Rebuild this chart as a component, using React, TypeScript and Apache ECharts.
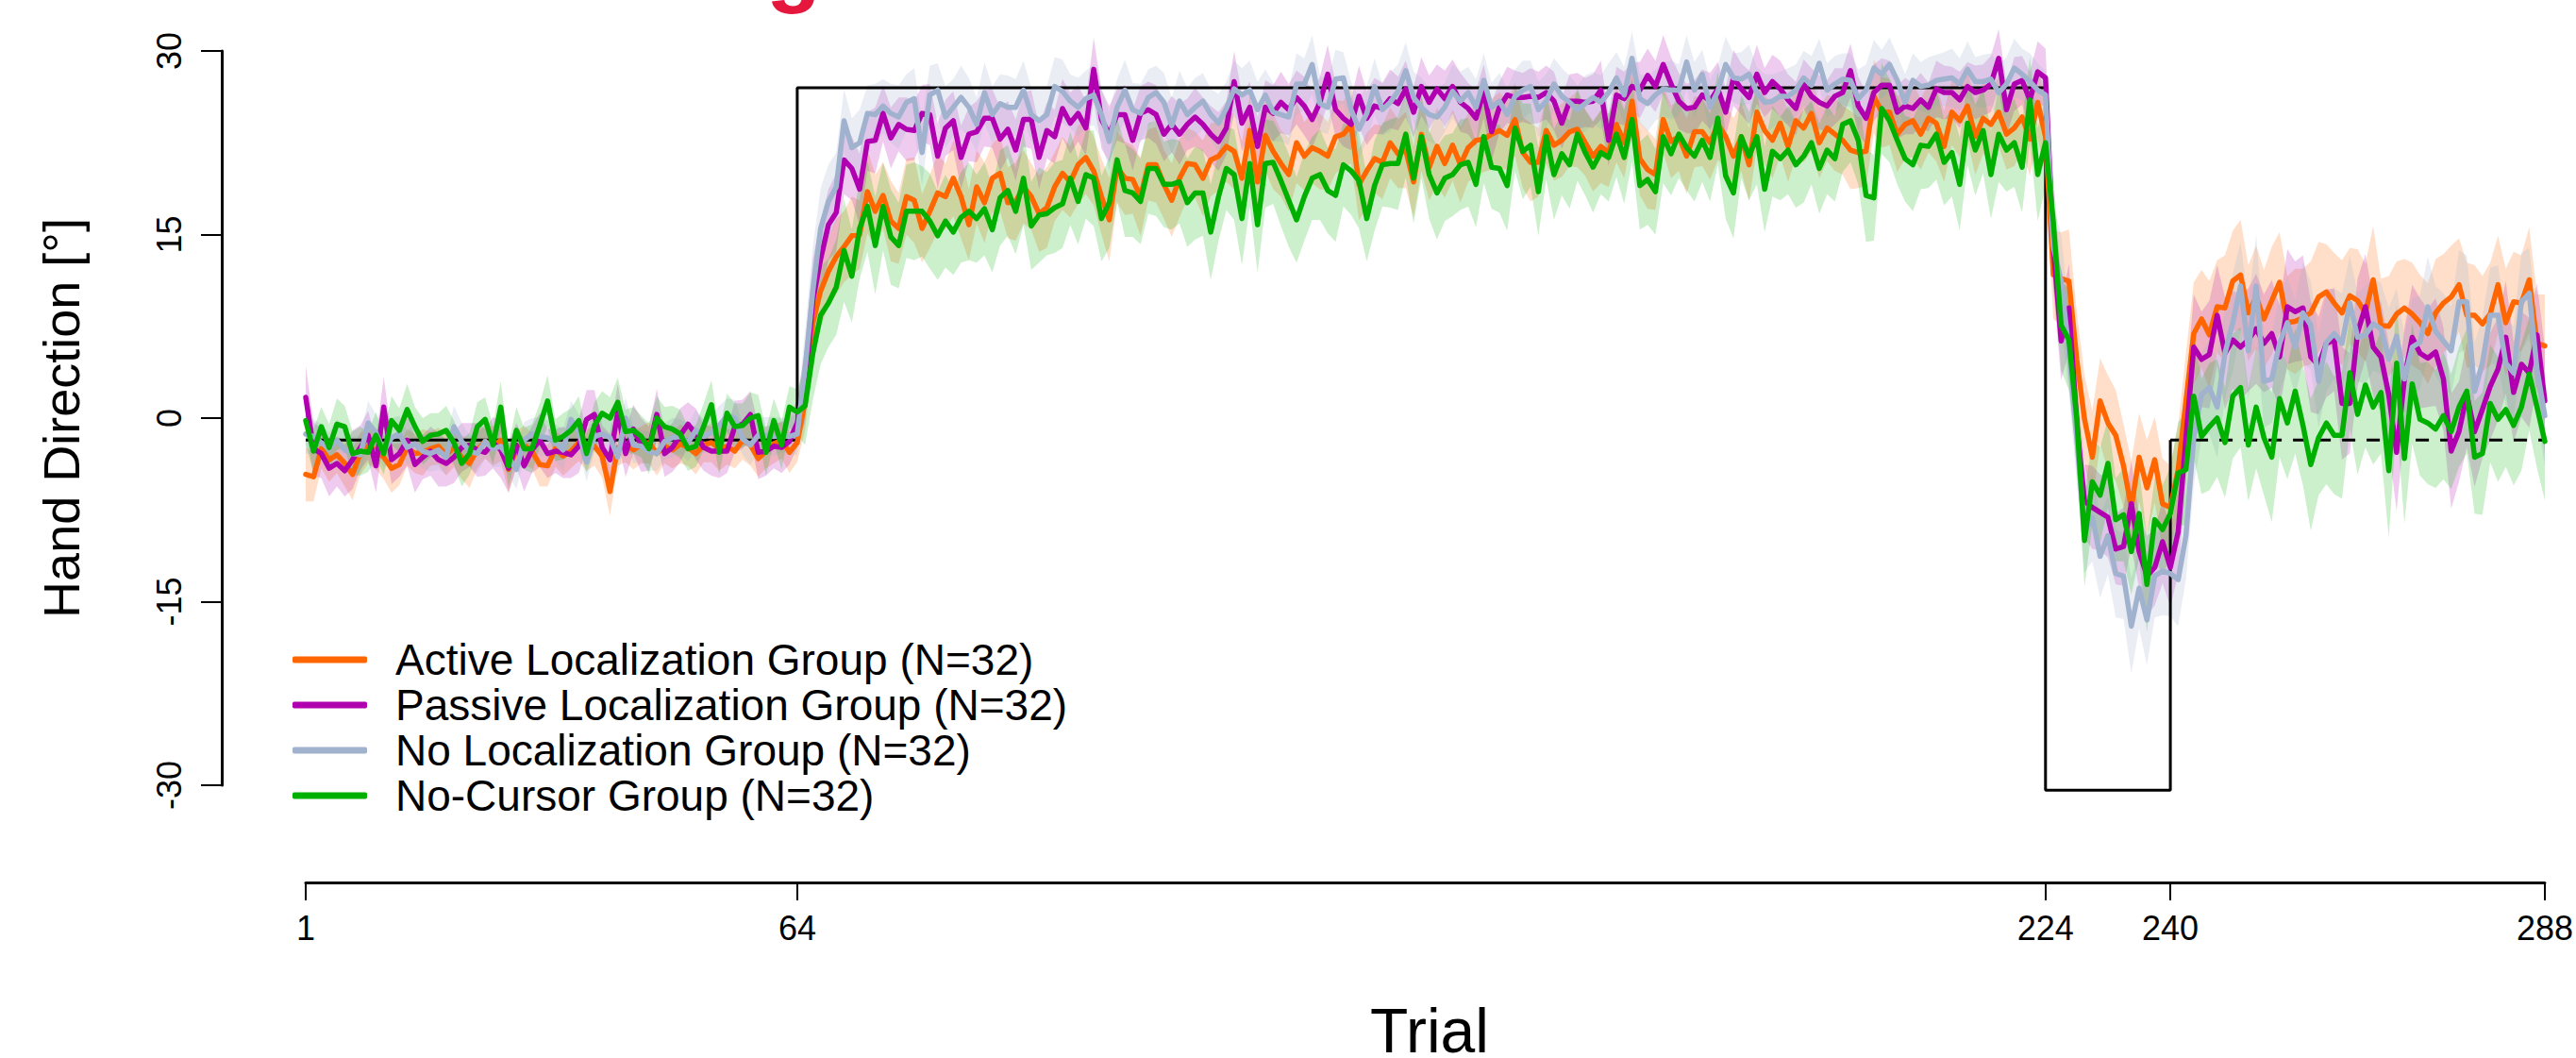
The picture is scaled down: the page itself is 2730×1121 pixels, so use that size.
import React, { useEffect, useRef } from "react";
import * as echarts from "echarts";

const FONT = "'Liberation Sans', Arial, Helvetica, sans-serif";

const TRIALS: number[] = Array.from({ length: 288 }, (_, i) => i + 1);
const X_TICKS = [1, 64, 224, 240, 288];

const GROUP_NAMES = [
  "Active Localization Group (N=32)",
  "Passive Localization Group (N=32)",
  "No Localization Group (N=32)",
  "No-Cursor Group (N=32)",
];
const LINE_COLORS = ["#FF6600", "#B000B0", "#A0B2CE", "#00B000"];
const BAND_COLORS = [
  "rgba(255,102,0,0.21)",
  "rgba(176,0,176,0.2)",
  "rgba(160,178,206,0.22)",
  "rgba(0,176,0,0.2)",
];

// perturbation schedule (trial, degrees)
const SCHEDULE_SOLID = [[1, -1.8], [64, -1.8], [64, 27], [224, 27], [224, -30.4], [240, -30.4], [240, -1.8]];
const SCHEDULE_DASHED = [[240, -1.8], [288, -1.8]];

const ACTIVE_MEAN = [
  -4.6,-4.8,-2.5,-3.4,-3.0,-3.7,-4.6,-2.9,-2.3,-2.6,
  -3.2,-4.1,-3.8,-2.4,-2.9,-2.8,-2.5,-2.3,-3.0,-2.4,
  -3.2,-3.7,-2.6,-1.9,-2.3,-1.8,-4.2,-2.6,-2.2,-2.7,
  -3.8,-3.9,-2.5,-3.1,-2.7,-2.0,-2.6,-2.3,-3.1,-6.0,
  -2.4,-2.2,-2.6,-2.2,-2.0,-2.9,-2.3,-2.6,-2.1,-2.4,
  -2.9,-2.2,-2.0,-2.5,-2.3,-2.7,-1.8,-2.2,-3.3,-2.7,
  -2.1,-1.8,-2.8,-2.0,1.4,7.8,10.4,12.0,13.2,14.0,
  14.9,15.0,18.5,16.9,18.2,16.1,15.5,18.1,17.8,15.5,
  16.9,18.4,18.1,19.6,18.1,15.8,18.9,17.6,19.6,20.0,
  17.6,17.7,18.9,18.1,16.7,17.2,18.9,20.0,19.3,20.7,
  21.3,20.2,18.1,16.2,20.5,19.6,19.5,18.1,20.7,20.7,
  19.1,17.8,19.6,20.8,20.7,19.6,21.1,21.4,22.2,21.8,
  19.6,23.5,19.3,23.1,21.8,20.8,19.9,22.5,21.4,22.1,
  21.8,21.4,23.0,23.2,24.0,19.1,20.2,21.2,20.9,22.5,
  21.6,21.9,19.3,23.2,20.5,22.2,20.8,22.3,20.7,22.1,
  22.7,22.8,23.2,23.5,23.1,24.4,21.7,20.9,20.9,23.5,
  22.3,22.7,23.4,23.6,22.5,21.4,22.2,21.7,24.0,22.5,
  25.9,21.2,20.3,19.9,24.4,22.6,23.0,21.4,23.4,23.4,
  22.5,24.0,23.0,21.4,23.0,20.7,25.0,23.5,22.7,24.1,
  22.2,24.3,23.7,24.9,22.5,23.7,23.2,22.7,21.9,21.7,
  21.8,26.3,25.0,25.0,23.2,24.0,24.3,23.2,24.5,24.1,
  22.2,25.0,24.3,25.5,23.0,24.5,24.0,25.0,23.2,23.7,
  24.6,22.8,25.8,23.0,11.7,11.4,11.2,4.8,-0.1,-3.2,
  1.4,-0.4,-1.4,-3.9,-7.3,-3.2,-5.7,-3.4,-7.0,-7.3,
  -4.2,1.4,6.9,8.1,6.8,9.1,9.0,11.2,11.7,8.6,
  9.9,8.1,9.6,11.1,7.8,7.9,8.2,8.6,9.9,10.3,
  9.4,8.6,10.0,9.6,8.6,11.3,7.6,7.5,8.5,9.0,
  8.5,7.8,6.9,8.6,9.4,9.9,10.9,8.4,8.4,7.7,
  8.5,10.9,7.8,9.5,9.4,11.3,6.1,5.9,
];

const PASSIVE_MEAN = [
  1.7,-2.5,-2.9,-4.1,-3.7,-4.3,-3.4,-2.4,-1.4,-3.9,
  0.9,-3.4,-2.9,-1.8,-3.8,-3.2,-2.7,-3.4,-3.7,-3.2,
  -2.4,-2.2,-2.6,-2.8,-2.0,-2.6,-4.1,-2.2,-3.9,-2.6,
  -1.8,-2.9,-2.7,-2.8,-3.0,-2.3,-0.1,0.3,-2.4,-3.4,
  0.5,-2.9,-0.9,-2.2,-2.5,0.3,-2.9,-2.4,-1.4,-0.5,
  -1.3,-2.4,-2.7,-2.7,-2.7,-0.7,-0.5,0.3,-2.8,-2.7,
  -2.3,-2.4,-1.9,-0.4,2.7,9.6,13.0,15.8,16.8,21.1,
  20.4,18.7,22.6,22.7,24.9,22.9,24.0,23.6,23.5,24.9,
  24.8,21.4,23.7,24.3,21.3,23.2,23.4,24.5,24.5,22.8,
  23.6,21.9,24.4,24.4,21.3,23.5,23.0,25.3,24.1,24.9,
  23.7,28.5,24.4,23.2,24.8,24.8,22.7,24.9,25.2,24.8,
  23.2,24.0,23.2,24.0,24.6,24.0,23.2,22.6,23.7,27.5,
  24.1,25.4,22.2,25.4,24.9,25.8,25.2,26.2,25.5,24.4,
  25.8,28.1,25.2,24.5,24.0,26.3,24.5,25.5,25.3,26.1,
  25.7,26.9,25.0,27.1,25.8,26.9,26.1,27.1,25.8,25.3,
  24.5,26.7,23.4,25.4,26.4,26.2,26.2,26.3,26.2,26.6,
  25.9,24.1,25.9,25.9,25.8,25.9,26.8,22.7,26.4,26.1,
  27.1,26.8,28.0,27.1,28.9,27.3,25.9,25.3,25.4,26.4,
  25.9,26.9,25.0,27.8,26.9,26.2,28.1,26.6,27.5,26.9,
  26.0,25.3,27.3,26.3,25.8,25.5,26.3,26.6,28.4,25.5,
  24.5,26.6,27.2,27.2,25.0,25.5,25.3,26.0,25.4,26.9,
  26.6,26.6,26.0,27.1,26.6,26.8,27.3,29.4,25.2,27.3,
  27.6,26.0,28.3,27.8,14.0,6.3,9.0,-0.4,-6.8,-7.3,
  -7.7,-8.1,-10.7,-10.5,-7.0,-10.9,-12.9,-12.2,-10.1,-12.2,
  -9.3,-1.6,5.8,4.8,5.2,8.4,5.3,6.4,5.8,6.4,
  7.3,6.1,6.9,5.0,9.1,8.7,9.0,5.0,4.3,6.1,
  6.4,1.2,1.2,7.0,9.1,5.8,5.0,1.9,-2.8,3.2,
  6.6,5.3,4.9,5.4,3.2,-2.7,-1.1,1.9,-1.1,0.7,
  2.6,4.0,6.6,2.1,4.4,3.7,6.8,1.4,
];

const NOLOC_MEAN = [
  -1.3,-1.5,-2.0,-2.5,-1.8,-2.6,-2.9,-3.0,-0.4,-1.2,
  -2.7,-1.6,-1.3,-2.4,-2.1,-2.7,-2.9,-2.6,-3.2,-0.7,
  -1.9,-2.7,-2.9,-1.9,-2.5,-2.3,-3.2,-4.2,-1.8,-1.3,
  -1.5,-1.6,-2.0,-2.6,-0.1,-1.1,-3.6,-1.5,-1.3,-1.6,
  -3.2,0.0,-2.2,-2.3,-2.7,-2.9,-1.9,-1.6,-1.5,-2.0,
  -1.0,-1.5,-1.2,-0.6,0.2,0.0,-1.7,-2.2,-1.4,-1.4,
  -1.5,-1.4,-1.5,-1.3,4.0,10.4,15.5,17.7,18.9,24.3,
  22.1,22.5,24.9,24.8,25.5,24.9,24.6,25.8,26.1,21.7,
  26.4,26.8,24.6,25.4,26.2,25.4,24.0,26.6,24.8,25.7,
  25.4,25.4,26.8,24.8,24.3,24.8,27.1,26.7,25.9,25.4,
  26.1,26.4,24.8,22.6,25.4,26.8,25.2,24.9,26.2,26.6,
  25.8,23.9,25.9,24.8,25.4,25.9,24.8,24.1,25.3,26.9,
  26.4,26.8,25.2,26.4,25.0,24.8,24.6,27.3,27.3,28.9,
  25.7,25.4,27.7,27.8,25.2,23.6,24.9,27.1,25.2,25.8,
  26.7,28.4,26.2,25.4,24.8,24.6,25.4,26.7,25.9,26.6,
  25.4,27.6,25.4,25.9,24.8,26.3,26.8,27.1,25.2,25.9,
  27.3,26.3,25.8,25.2,25.7,26.2,25.8,26.6,27.8,26.4,
  29.4,26.1,25.7,26.4,26.9,26.8,26.8,29.1,26.8,28.1,
  25.4,26.7,28.9,27.8,27.7,28.1,26.6,25.8,25.9,26.3,
  26.3,26.8,27.8,27.2,29.0,26.8,27.3,27.7,27.6,26.1,
  26.8,28.6,28.1,28.9,27.6,25.8,27.6,27.1,27.2,27.6,
  27.7,27.8,27.3,28.5,27.5,27.5,27.7,26.6,27.3,28.6,
  28.1,27.5,26.8,26.4,14.0,11.2,5.5,-1.6,-9.3,-8.1,
  -11.3,-9.6,-12.7,-12.9,-17.0,-13.9,-16.5,-12.9,-12.5,-12.7,
  -13.2,-9.6,-1.6,1.9,2.5,0.9,5.3,7.8,10.8,5.5,
  10.8,3.0,3.2,6.1,7.8,5.8,8.6,7.6,3.0,6.2,
  6.9,6.1,9.4,6.6,6.8,7.7,7.3,4.8,6.7,3.2,
  5.8,6.2,9.1,7.1,6.3,5.5,9.5,9.5,2.2,4.5,
  8.4,8.4,4.5,3.7,9.5,10.2,4.0,0.2,
];

const NOCURSOR_MEAN = [
  -0.2,-2.7,-0.7,-2.4,-0.5,-0.7,-2.9,-2.7,-2.8,-1.4,
  -2.9,-0.2,-1.0,0.7,-0.7,-1.9,-1.4,-1.3,-1.0,-2.0,
  -3.7,-2.9,-0.7,-0.1,-2.2,0.9,-3.9,-1.0,-2.5,-2.5,
  -0.6,1.4,-1.8,-1.5,-1.0,-0.2,-2.9,-0.6,0.4,0.0,
  1.3,-1.1,-1.0,-1.5,-2.5,0.0,-0.7,-0.9,-1.3,-2.5,
  -2.3,-0.7,1.1,-2.8,0.4,-0.7,-0.6,0.0,0.2,-2.8,
  -0.2,-2.2,0.9,0.5,1.0,5.3,8.4,9.4,10.7,13.7,
  11.6,15.5,17.3,14.1,17.3,14.8,14.1,16.9,16.9,16.9,
  16.1,14.9,16.1,15.2,16.4,16.9,16.3,17.1,15.4,18.0,
  18.6,16.9,19.6,15.7,16.6,16.7,17.2,17.5,19.6,17.7,
  19.9,19.6,16.3,17.6,21.1,18.6,18.4,17.7,20.4,20.4,
  19.1,19.1,19.3,17.6,18.4,18.4,15.2,18.1,20.4,19.9,
  16.3,20.8,15.8,20.8,20.9,19.4,17.8,16.2,18.1,19.6,
  19.9,18.6,18.2,20.7,20.2,19.4,16.3,19.0,20.7,20.8,
  20.8,23.2,19.6,23.0,19.9,18.4,19.6,19.9,20.7,20.9,
  19.1,23.0,20.5,20.4,19.0,23.7,21.8,22.3,18.5,23.0,
  19.9,21.6,20.7,23.2,21.7,20.5,21.7,21.3,23.2,21.3,
  24.4,19.0,19.5,18.5,23.0,21.6,23.2,22.1,21.4,22.7,
  21.3,24.5,19.8,18.4,23.0,21.4,23.0,18.7,21.8,21.2,
  21.9,20.7,21.4,22.5,20.4,21.9,21.2,24.0,24.3,22.7,
  18.2,18.0,25.3,24.3,22.7,21.2,20.7,22.3,22.2,23.2,
  20.9,21.7,19.1,24.1,21.9,23.5,19.9,23.2,21.9,22.5,
  20.5,26.0,19.9,22.5,16.0,7.6,6.4,0.0,-10.0,-5.2,
  -6.3,-3.7,-8.3,-7.9,-10.9,-7.8,-13.6,-8.3,-9.1,-7.8,
  -4.5,-4.2,1.8,-1.5,-0.7,0.0,-2.0,1.8,2.5,-2.2,
  0.9,-1.6,-3.2,1.6,-0.4,2.2,-0.6,-3.8,-1.6,-0.4,
  -1.4,-1.4,3.7,0.3,2.7,0.9,2.1,-4.3,4.5,-3.3,
  2.8,-0.1,-0.4,-0.9,0.2,-1.1,0.9,2.2,-3.2,-2.9,
  1.2,-0.1,0.7,-0.6,0.9,3.6,0.9,-1.9,
];

// half-widths of the confidence bands
const ACTIVE_CI = [
  2.2,2.0,1.6,1.8,1.5,1.9,2.1,1.7,1.4,1.6,
  1.8,2.0,1.7,1.5,1.6,1.9,1.4,1.5,1.7,1.6,
  1.8,2.0,1.5,1.4,1.6,1.7,1.9,1.5,1.6,1.4,
  1.8,1.7,1.5,1.6,1.4,1.5,1.7,1.6,1.8,2.0,
  1.5,1.4,1.6,1.5,1.7,1.8,1.4,1.5,1.6,1.5,
  1.7,1.4,1.6,1.8,1.5,1.4,1.6,1.7,1.5,1.4,
  1.6,1.5,1.7,1.6,2.4,3.2,3.0,2.8,3.1,2.9,
  3.2,2.8,3.4,3.0,2.7,3.3,2.9,3.1,3.5,2.8,
  3.0,3.2,2.7,3.1,3.4,2.9,3.0,3.3,2.8,3.1,
  2.9,3.2,3.0,2.7,3.1,3.3,2.8,3.0,2.9,3.2,
  3.0,2.8,3.1,3.4,2.9,3.0,2.8,3.2,2.9,3.1,
  2.8,3.0,3.2,2.9,2.7,3.1,3.0,2.8,2.9,3.1,
  3.0,2.8,3.2,2.9,3.1,2.7,3.0,3.3,2.8,2.9,
  3.1,2.8,3.0,2.7,3.2,2.9,3.1,2.8,3.0,2.9,
  2.8,3.1,2.9,3.0,2.7,3.2,2.8,2.9,3.1,2.8,
  3.0,2.7,2.9,3.1,2.8,3.0,2.9,3.2,2.8,2.7,
  2.9,3.0,2.8,3.1,2.7,2.9,3.0,2.8,3.1,2.9,
  2.8,3.0,3.2,2.9,2.7,3.0,2.8,3.1,2.9,2.8,
  3.0,2.9,2.7,3.1,2.8,3.0,2.9,2.8,3.1,2.7,
  2.9,3.0,2.8,3.1,2.9,2.7,3.0,2.8,3.2,2.9,
  2.8,3.0,2.9,2.7,3.1,2.8,3.0,2.9,2.8,3.1,
  2.9,2.7,3.0,2.8,3.1,2.9,3.0,2.8,2.9,3.1,
  2.8,3.0,2.9,3.1,3.6,3.8,4.2,3.9,3.6,3.8,
  3.5,3.9,3.7,3.4,3.8,3.6,3.9,3.5,3.7,3.4,
  3.6,3.9,4.2,4.0,4.4,3.8,4.3,4.1,4.5,3.9,
  4.2,4.0,4.4,4.1,3.8,4.3,4.0,4.2,4.5,3.9,
  4.1,4.3,3.9,4.2,4.0,4.4,3.8,4.1,4.3,4.0,
  4.2,3.9,4.1,4.4,4.0,4.2,3.8,4.3,4.1,3.9,
  4.2,4.0,4.4,4.1,3.9,4.3,4.0,4.2,
];

const PASSIVE_CI = [
  2.6,2.2,2.0,2.3,1.9,2.1,2.4,1.8,2.0,2.2,
  2.5,2.0,1.9,2.1,2.3,1.8,2.0,2.2,1.9,2.1,
  2.0,1.8,2.2,1.9,2.1,2.3,2.0,1.8,2.1,1.9,
  2.2,2.0,1.8,2.1,1.9,2.2,2.4,2.0,1.8,2.1,
  2.3,1.9,2.0,2.2,1.8,2.1,1.9,2.0,2.2,1.8,
  2.1,1.9,2.0,2.2,1.8,2.1,2.0,1.9,2.2,2.0,
  1.8,2.1,1.9,2.0,3.0,3.4,3.1,2.9,3.2,2.8,
  2.6,2.9,2.4,2.7,2.3,2.5,2.2,2.6,2.4,2.3,
  2.5,2.7,2.3,2.4,2.6,2.2,2.5,2.3,2.4,2.6,
  2.3,2.5,2.2,2.4,2.6,2.3,2.2,2.4,2.5,2.3,
  2.2,2.6,2.4,2.3,2.1,2.4,2.5,2.2,2.3,2.4,
  2.2,2.3,2.5,2.1,2.4,2.2,2.3,2.4,2.2,2.5,
  2.3,2.1,2.4,2.2,2.3,2.5,2.1,2.2,2.4,2.3,
  2.1,2.4,2.2,2.3,2.1,2.5,2.2,2.3,2.1,2.4,
  2.2,2.3,2.1,2.4,2.2,2.0,2.3,2.2,2.4,2.1,
  2.3,2.2,2.4,2.1,2.3,2.2,2.0,2.3,2.1,2.2,
  2.4,2.1,2.2,2.3,2.0,2.2,2.4,2.1,2.3,2.2,
  2.0,2.3,2.2,2.1,2.4,2.2,2.3,2.0,2.2,2.1,
  2.3,2.2,2.0,2.3,2.1,2.2,2.4,2.0,2.2,2.3,
  2.1,2.2,2.0,2.3,2.2,2.1,2.3,2.0,2.2,2.4,
  2.1,2.3,2.2,2.0,2.2,2.3,2.1,2.2,2.0,2.3,
  2.2,2.1,2.3,2.0,2.2,2.1,2.3,2.4,2.1,2.2,
  2.0,2.3,2.5,2.4,3.4,3.2,3.6,3.3,3.0,3.4,
  3.1,3.3,2.9,3.2,3.5,3.0,3.3,3.1,3.4,3.2,
  3.5,3.8,4.3,3.9,4.4,4.1,4.6,4.0,4.3,4.2,
  4.5,4.0,4.4,4.2,4.7,4.1,4.3,4.5,4.0,4.4,
  4.2,4.6,4.1,4.4,4.3,4.0,4.5,4.2,4.8,4.1,
  4.3,4.5,4.0,4.4,4.2,4.7,4.1,4.3,4.5,4.0,
  4.4,4.2,4.6,4.1,4.3,4.5,4.2,4.4,
];

const NOLOC_CI = [
  1.6,1.4,1.5,1.3,1.7,1.5,1.4,1.6,1.8,1.5,
  1.4,1.6,1.5,1.3,1.7,1.4,1.5,1.6,1.4,1.7,
  1.5,1.3,1.6,1.4,1.5,1.7,1.4,1.6,1.5,1.3,
  1.6,1.4,1.5,1.7,1.5,1.4,1.6,1.3,1.5,1.6,
  1.4,1.7,1.5,1.3,1.6,1.4,1.5,1.6,1.4,1.5,
  1.7,1.4,1.5,1.6,1.4,1.5,1.3,1.6,1.4,1.5,
  1.6,1.4,1.5,1.7,3.2,3.6,3.3,3.0,2.8,2.6,
  2.4,2.7,2.3,2.5,2.2,2.4,2.6,2.3,2.5,2.7,
  2.4,2.2,2.5,2.3,2.6,2.4,2.2,2.5,2.3,2.4,
  2.6,2.3,2.4,2.2,2.5,2.3,2.4,2.6,2.2,2.4,
  2.3,2.5,2.2,2.4,2.3,2.5,2.2,2.4,2.3,2.2,
  2.4,2.3,2.5,2.2,2.4,2.3,2.1,2.4,2.2,2.3,
  2.2,2.4,2.3,2.1,2.4,2.2,2.3,2.5,2.1,2.4,
  2.3,2.2,2.4,2.1,2.3,2.5,2.2,2.3,2.1,2.4,
  2.2,2.3,2.1,2.4,2.2,2.3,2.0,2.2,2.4,2.1,
  2.3,2.2,2.0,2.3,2.1,2.2,2.4,2.1,2.3,2.2,
  2.1,2.3,2.2,2.0,2.3,2.1,2.2,2.4,2.1,2.3,
  2.2,2.0,2.3,2.1,2.2,2.4,2.1,2.2,2.3,2.0,
  2.2,2.1,2.3,2.0,2.2,2.4,2.1,2.3,2.2,2.0,
  2.3,2.1,2.2,2.4,2.0,2.2,2.3,2.1,2.2,2.4,
  2.1,2.3,2.0,2.2,2.1,2.3,2.2,2.0,2.3,2.1,
  2.2,2.4,2.1,2.3,2.0,2.2,2.1,2.3,2.2,2.4,
  2.1,2.3,2.2,2.0,3.5,3.8,3.4,3.7,3.3,3.6,
  3.4,3.2,3.6,3.5,3.9,3.3,3.7,3.4,3.6,3.5,
  3.8,3.6,3.9,3.5,3.8,4.1,3.7,4.0,3.6,3.9,
  4.2,3.8,3.6,4.0,3.7,3.9,4.1,3.6,3.8,4.0,
  3.7,4.1,3.9,3.6,4.0,3.8,3.7,4.2,3.9,3.6,
  4.0,3.8,4.1,3.7,3.9,3.6,4.2,3.8,4.0,3.7,
  3.9,4.1,3.6,3.8,4.0,3.7,3.9,4.1,
];

const NOCURSOR_CI = [
  2.0,1.8,1.6,1.9,2.1,1.7,1.8,2.0,1.6,1.9,
  1.7,2.0,1.8,2.1,1.6,1.9,1.8,1.7,2.0,1.8,
  1.9,1.7,2.0,1.8,1.6,2.1,1.8,1.9,1.7,2.0,
  1.8,2.1,1.7,1.9,1.8,2.0,1.6,1.9,1.8,1.7,
  2.0,1.8,1.9,1.7,2.1,1.8,1.6,1.9,2.0,1.8,
  1.7,1.9,2.0,1.8,1.6,1.9,1.8,2.1,1.7,1.9,
  1.8,2.0,1.7,1.9,3.2,3.8,4.0,3.6,3.9,4.2,
  3.8,4.1,3.7,4.0,3.6,3.9,3.5,3.8,4.0,3.7,
  3.9,3.6,3.8,3.5,3.7,4.0,3.6,3.8,3.5,3.9,
  3.7,3.5,3.8,3.6,3.9,3.4,3.7,3.6,3.8,3.5,
  3.6,3.9,3.5,3.7,3.4,3.8,3.6,3.5,3.7,3.9,
  3.5,3.7,3.4,3.6,3.8,3.5,3.9,3.6,3.4,3.7,
  3.8,3.5,3.9,3.6,3.4,3.7,3.8,3.5,3.6,3.4,
  3.7,3.5,3.8,3.4,3.6,3.9,3.5,3.7,3.4,3.6,
  3.8,3.5,3.7,3.4,3.6,3.8,3.5,3.4,3.7,3.6,
  3.5,3.8,3.4,3.6,3.7,3.5,3.9,3.4,3.6,3.5,
  3.7,3.4,3.6,3.8,3.5,3.7,3.4,3.6,3.5,3.8,
  3.4,3.6,3.7,3.5,3.8,3.4,3.6,3.5,3.7,3.4,
  3.6,3.8,3.5,3.7,3.4,3.6,3.9,3.5,3.7,3.4,
  3.6,3.5,3.8,3.4,3.7,3.6,3.5,3.9,3.4,3.6,
  3.8,3.5,3.7,3.4,3.6,3.5,3.8,3.6,3.4,3.7,
  3.5,3.6,3.8,3.4,3.7,3.5,3.6,3.9,3.4,3.6,
  3.7,3.5,3.8,3.6,3.9,3.7,4.1,3.6,3.8,3.5,
  3.9,3.6,3.4,3.8,3.5,3.7,3.9,3.4,3.6,3.8,
  4.2,4.6,5.0,4.7,5.2,4.8,4.5,5.1,4.9,4.6,
  5.0,4.7,5.3,4.8,4.6,5.1,4.9,5.4,4.7,5.0,
  4.8,5.2,4.6,4.9,5.1,4.7,5.0,5.5,4.8,5.3,
  4.9,4.6,5.0,4.8,5.2,4.7,4.9,5.1,4.6,5.0,
  4.8,5.1,4.7,4.9,5.2,4.6,5.0,4.8,
];

const MEANS = [ACTIVE_MEAN, PASSIVE_MEAN, NOLOC_MEAN, NOCURSOR_MEAN];
const CIS = [ACTIVE_CI, PASSIVE_CI, NOLOC_CI, NOCURSOR_CI];

function bandSeries(idx: number) {
  const mean = MEANS[idx];
  const ci = CIS[idx];
  const n = Math.min(mean.length, ci.length, TRIALS.length);
  return {
    type: "custom",
    name: GROUP_NAMES[idx] + " band",
    data: [[1, 0]],
    clip: false,
    silent: true,
    encode: { x: 0, y: 1 },
    renderItem: (_params: any, api: any) => {
      const pts: number[][] = [];
      for (let i = 0; i < n; i++) pts.push(api.coord([TRIALS[i], mean[i] + ci[i]]));
      for (let i = n - 1; i >= 0; i--) pts.push(api.coord([TRIALS[i], mean[i] - ci[i]]));
      return {
        type: "polygon",
        shape: { points: pts },
        style: { fill: BAND_COLORS[idx] },
        silent: true,
      };
    },
  };
}

function lineSeries(idx: number) {
  const mean = MEANS[idx];
  return {
    type: "line",
    name: GROUP_NAMES[idx],
    data: TRIALS.slice(0, mean.length).map((t, i) => [t, mean[i]]),
    showSymbol: false,
    symbol: "none",
    clip: false,
    silent: true,
    color: LINE_COLORS[idx],
    lineStyle: { color: LINE_COLORS[idx], width: 5.5, join: "round", cap: "round" },
  };
}

export default function App() {
  const ref = useRef<HTMLDivElement>(null);

  useEffect(() => {
    if (!ref.current) return;
    const chart = echarts.init(ref.current, undefined, { renderer: "svg" });
    const series: any[] = [
      {
        type: "line",
        name: "schedule",
        data: SCHEDULE_SOLID,
        showSymbol: false,
        symbol: "none",
        clip: false,
        silent: true,
        lineStyle: { color: "#000", width: 3 },
      },
      {
        type: "line",
        name: "schedule dashed",
        data: SCHEDULE_DASHED,
        showSymbol: false,
        symbol: "none",
        clip: false,
        silent: true,
        lineStyle: { color: "#000", width: 3, type: [14, 12] },
      },
    ];
    for (let i = 0; i < 4; i++) {
      series.push(bandSeries(i));
      series.push(lineSeries(i));
    }

    chart.setOption({
      animation: false,
      backgroundColor: "#ffffff",
      textStyle: { fontFamily: FONT },
      grid: { left: 324, right: 31, top: 54, bottom: 289, containLabel: false },
      xAxis: {
        type: "value",
        min: 1,
        max: 288,
        position: "bottom",
        offset: 103,
        splitLine: { show: false },
        axisLine: { show: true, onZero: false, lineStyle: { color: "#000", width: 3 } },
        axisTick: {
          show: true,
          customValues: X_TICKS,
          length: 19,
          lineStyle: { color: "#000", width: 2 },
        },
        axisLabel: {
          customValues: X_TICKS,
          fontSize: 36,
          color: "#000",
          fontFamily: FONT,
          margin: 30,
          hideOverlap: false,
        },
      },
      yAxis: {
        type: "value",
        min: -30,
        max: 30,
        interval: 15,
        position: "left",
        offset: 89,
        splitLine: { show: false },
        axisLine: { show: true, onZero: false, lineStyle: { color: "#000", width: 3 } },
        axisTick: { show: true, length: 22, lineStyle: { color: "#000", width: 2 } },
        axisLabel: {
          rotate: 90,
          fontSize: 36,
          color: "#000",
          fontFamily: FONT,
          margin: 38,
        },
      },
      legend: {
        data: GROUP_NAMES,
        orient: "vertical",
        left: 305,
        top: 671,
        itemWidth: 79,
        itemHeight: 7,
        itemGap: 2,
        icon: "roundRect",
        selectedMode: false,
        textStyle: {
          fontSize: 46,
          lineHeight: 46,
          color: "#000",
          fontFamily: FONT,
          padding: [0, 0, 0, 25],
        },
      },
      graphic: [
        {
          type: "text",
          x: 812,
          y: -38,
          silent: true,
          style: {
            text: "g",
            fill: "#E6173C",
            font: `bold 95px ${FONT}`,
            align: "left",
            verticalAlign: "middle",
          },
        },
        {
          type: "text",
          x: 1515,
          y: 1092,
          silent: true,
          style: {
            text: "Trial",
            fill: "#000",
            font: `66px ${FONT}`,
            lineHeight: 52,
            align: "center",
            verticalAlign: "middle",
          },
        },
        {
          type: "text",
          x: 65,
          y: 443,
          rotation: Math.PI / 2,
          silent: true,
          style: {
            text: "Hand Direction [°]",
            fill: "#000",
            font: `54px ${FONT}`,
            align: "center",
            verticalAlign: "middle",
          },
        },
      ],
      series,
    });

    return () => {
      chart.dispose();
    };
  }, []);

  return (
    <div
      ref={ref}
      style={{ position: "fixed", left: 0, top: 0, width: "2730px", height: "1121px" }}
    />
  );
}
